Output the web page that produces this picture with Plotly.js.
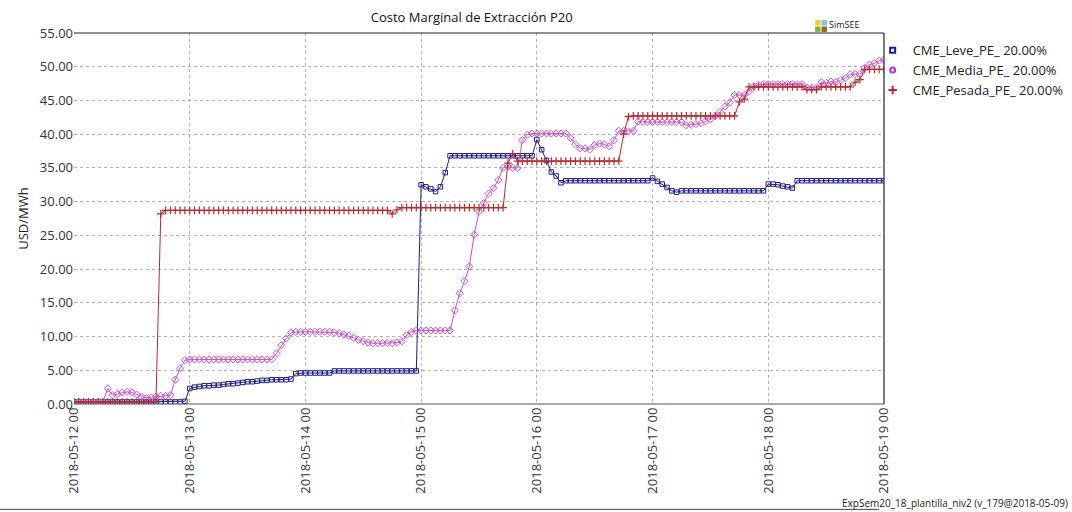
<!DOCTYPE html>
<html>
<head>
<meta charset="utf-8">
<script src="https://cdn.plot.ly/plotly-3.0.1.min.js"></script>
<style>html,body{margin:0;padding:0;background:#fff;}#chart{width:1072px;height:512px;}</style>
</head>
<body>
<div id="chart"></div>
<script>
// Hourly series, 2018-05-12 00 .. 2018-05-19 00 (169 points)
const seriesNames = ["CME_Leve_PE_ 20.00%", "CME_Media_PE_ 20.00%", "CME_Pesada_PE_ 20.00%"];
const dayTicks = ["2018-05-12 00","2018-05-13 00","2018-05-14 00","2018-05-15 00","2018-05-16 00","2018-05-17 00","2018-05-18 00","2018-05-19 00"];

const leve = [
 0.3,0.3,0.3,0.3,0.3,0.3,0.3,0.3,0.3,0.3,0.3,0.3,0.3,0.3,0.3,0.3,0.3,0.3,0.3,0.3,0.3,0.3,0.3,0.4,
 2.3,2.5,2.6,2.7,2.7,2.8,2.8,2.9,3.0,3.0,3.1,3.2,3.3,3.3,3.4,3.5,3.5,3.6,3.6,3.6,3.6,3.7,
 4.5,4.6,4.6,4.6,4.6,4.6,4.6,4.6,
 4.9,4.9,4.9,4.9,4.9,4.9,4.9,4.9,4.9,4.9,4.9,4.9,4.9,4.9,4.9,4.9,4.9,4.9,
 32.5,32.2,31.9,31.5,32.2,34.3,
 36.8,36.8,36.8,36.8,36.8,36.8,36.8,36.8,36.8,36.8,36.8,36.8,36.8,36.8,36.8,36.8,36.8,36.8,
 39.2,37.7,36.1,34.4,33.8,32.8,
 33.1,33.1,33.1,33.1,33.1,33.1,33.1,33.1,33.1,33.1,33.1,33.1,33.1,33.1,33.1,33.1,33.1,33.1,
 33.5,33.0,32.6,32.1,31.6,31.4,
 31.6,31.6,31.6,31.6,31.6,31.6,31.6,31.6,31.6,31.6,31.6,31.6,31.6,31.6,31.6,31.6,31.6,31.6,
 32.6,32.6,32.5,32.3,32.2,32.0,
 33.1,33.1,33.1,33.1,33.1,33.1,33.1,33.1,33.1,33.1,33.1,33.1,33.1,33.1,33.1,33.1,33.1,33.1,33.1
];

const media = [
 0.3,0.3,0.3,0.3,0.3,0.3,0.3,
 2.3,1.3,1.5,1.7,1.8,1.7,1.4,1.1,0.9,1.0,1.1,1.2,1.2,1.3,3.6,5.3,6.5,
 6.6,6.6,6.6,6.6,6.6,6.6,6.6,6.6,6.6,6.6,6.6,6.6,6.6,6.6,6.6,6.6,6.6,6.6,
 7.5,8.7,9.7,10.6,
 10.7,10.7,10.7,10.7,10.7,10.7,10.7,10.7,
 10.6,10.5,10.3,10.1,9.8,9.5,9.3,9.1,9.0,9.0,9.0,9.0,9.0,9.1,9.3,10.2,10.7,10.9,
 10.9,10.9,10.9,10.9,10.9,10.9,10.9,
 13.9,16.4,18.2,20.4,25.1,28.5,29.8,31.2,32.0,33.2,35.0,35.2,35.0,35.0,39.1,39.9,
 40.1,40.1,40.1,40.1,40.1,40.1,40.1,40.1,
 39.4,38.5,37.9,37.9,37.7,38.4,38.6,38.5,38.2,39.1,40.5,40.5,40.4,40.5,41.9,
 41.8,41.8,41.8,41.8,41.8,41.8,41.8,41.8,41.8,
 41.3,41.4,41.5,41.6,41.9,42.2,42.7,43.3,44.1,44.7,45.8,45.8,45.8,46.3,47.1,47.3,
 47.4,47.4,47.4,47.4,47.4,47.4,47.4,47.4,47.4,
 46.9,46.9,46.9,47.7,47.6,47.8,47.7,48.0,48.3,48.9,48.9,48.9,49.8,50.3,50.5,50.9,51.0
];

const pesada = [
 0.3,0.3,0.3,0.3,0.3,0.3,0.3,0.3,0.3,0.3,0.3,0.3,0.3,0.3,0.3,0.3,0.3,0.3,
 28.2,
 28.7,28.7,28.7,28.7,28.7,28.7,28.7,28.7,28.7,28.7,28.7,28.7,28.7,28.7,28.7,28.7,
 28.7,28.7,28.7,28.7,28.7,28.7,28.7,28.7,28.7,28.7,28.7,28.7,28.7,28.7,28.7,28.7,
 28.7,28.7,28.7,28.7,28.7,28.7,28.7,28.7,28.7,28.7,28.7,28.7,28.7,28.7,28.7,
 28.2,28.8,
 29.1,29.1,29.1,29.1,29.1,29.1,29.1,29.1,29.1,29.1,29.1,29.1,29.1,29.1,29.1,29.1,29.1,29.1,29.1,29.1,29.1,29.1,
 35.7,37.1,36.0,
 36.0,36.0,36.0,36.0,36.0,36.0,36.0,36.0,36.0,36.0,36.0,36.0,36.0,36.0,36.0,36.0,36.0,36.0,36.0,36.0,36.0,
 40.0,42.6,
 42.7,42.7,42.7,42.7,42.7,42.7,42.7,42.7,42.7,42.7,42.7,42.7,42.7,42.7,42.7,42.7,42.7,42.7,42.7,42.7,42.7,42.7,
 44.8,45.2,
 47.0,47.0,47.0,47.0,47.0,47.0,47.0,47.0,47.0,47.0,47.0,47.0,
 46.6,46.6,46.6,
 47.0,47.0,47.0,47.0,47.0,47.0,47.0,
 47.7,48.1,
 49.6,49.6,49.6,49.6,49.6
];

const yTicks = [0,5,10,15,20,25,30,35,40,45,50,55];

// hourly timestamps for the x axis
function hourStamp(i){
  const d = new Date(Date.UTC(2018,4,12,0,0,0) + i*3600000);
  const p = n => String(n).padStart(2,'0');
  return d.getUTCFullYear()+'-'+p(d.getUTCMonth()+1)+'-'+p(d.getUTCDate())+' '+p(d.getUTCHours())+':00';
}
const xs = leve.map((_,i)=>hourStamp(i));
const tickVals = dayTicks.map(t => t + ':00');

const colLeve = '#1c1c8a', colMedia = '#cc4fcc', colPesada = '#b82a2e';

const traces = [
  {x: xs, y: leve, mode:'lines+markers', name: seriesNames[0], showlegend:false,
   line:{color:colLeve,width:1}, marker:{symbol:'square-open',size:4.5,color:colLeve,line:{width:1,color:colLeve}}},
  {x: xs, y: media, mode:'lines+markers', name: seriesNames[1], showlegend:false,
   line:{color:colMedia,width:1}, marker:{symbol:'diamond-open',size:5.5,color:colMedia,line:{width:1,color:colMedia}}},
  {x: xs, y: pesada, mode:'lines+markers', name: seriesNames[2], showlegend:false,
   line:{color:colPesada,width:1}, marker:{symbol:'cross-thin-open',size:5.5,color:colPesada,line:{width:1.2,color:colPesada}}},
  {x:[null], y:[null], mode:'markers', name: seriesNames[0], showlegend:true,
   marker:{symbol:'square-open',size:5,color:'#1a1aa0',line:{width:2,color:'#1a1aa0'}}},
  {x:[null], y:[null], mode:'markers', name: seriesNames[1], showlegend:true,
   marker:{symbol:'circle-open',size:5,color:'#c030d0',line:{width:2,color:'#c030d0'}}},
  {x:[null], y:[null], mode:'markers', name: seriesNames[2], showlegend:true,
   marker:{symbol:'cross-thin-open',size:6,color:'#d02020',line:{width:2,color:'#d02020'}}}
];

const fontFam = 'Open Sans, Noto Sans, sans-serif';
const layout = {
  width:1072, height:512,
  margin:{l:74, r:188, t:33, b:108, autoexpand:false},
  paper_bgcolor:'#fff', plot_bgcolor:'#fff',
  font:{family:fontFam, size:13, color:'#222'},
  title:{text:'Costo Marginal de Extracción P20', x:0.44, xanchor:'center', y:0.965, yanchor:'middle',
         font:{family:fontFam, size:13, color:'#111'}},
  xaxis:{type:'date', range:[tickVals[0], tickVals[tickVals.length-1]],
         tickmode:'array', tickvals:tickVals, ticktext:dayTicks, tickangle:-90,
         showgrid:true, gridcolor:'#b0b0b0', griddash:'3px,3px', gridwidth:1,
         zeroline:false, showline:false, ticks:'', tickfont:{size:13,color:'#333'}},
  yaxis:{range:[0,55], tickmode:'array', tickvals:yTicks, ticktext:yTicks.map(v=>v.toFixed(2)),
         showgrid:true, gridcolor:'#b0b0b0', griddash:'3px,3px', gridwidth:1,
         zeroline:false, showline:false, ticks:'', tickfont:{size:13,color:'#333'},
         title:{text:'USD/MWh', font:{size:13,color:'#222'}, standoff:8}},
  legend:{x:0.986, xanchor:'left', y:0.994, yanchor:'top', font:{size:13,color:'#222'},
          bgcolor:'rgba(0,0,0,0)', itemwidth:30, tracegroupgap:2},
  shapes:[
    {type:'line', xref:'paper', yref:'paper', x0:0, x1:1, y0:1, y1:1, line:{color:'#222',width:1.2}},
    {type:'line', xref:'paper', yref:'paper', x0:0, x1:1, y0:0, y1:0, line:{color:'#555',width:1.2}},
    {type:'line', xref:'paper', yref:'paper', x0:1, x1:1, y0:0, y1:1, line:{color:'#222',width:1.2}},
    {type:'line', xref:'paper', yref:'paper', x0:-0.0914, x1:0.994, y0:-0.284, y1:-0.284, line:{color:'#444',width:1}},
    // SimSEE logo squares
    {type:'rect', xref:'paper', yref:'paper', x0:0.915, x1:0.9216, y0:1.020, y1:1.035, fillcolor:'#f5d020', line:{width:0}},
    {type:'rect', xref:'paper', yref:'paper', x0:0.9228, x1:0.9296, y0:1.020, y1:1.035, fillcolor:'#7cc4ee', line:{width:0}},
    {type:'rect', xref:'paper', yref:'paper', x0:0.915, x1:0.9216, y0:1.003, y1:1.0175, fillcolor:'#7ab830', line:{width:0}},
    {type:'rect', xref:'paper', yref:'paper', x0:0.9228, x1:0.9296, y0:1.003, y1:1.0175, fillcolor:'#9a6a10', line:{width:0}}
  ],
  annotations:[
    {text:'SimSEE', xref:'paper', yref:'paper', x:0.930, y:1.0, xanchor:'left', yanchor:'bottom',
     showarrow:false, font:{size:9,color:'#222'}},
    {text:'ExpSem20_18_plantilla_niv2 (v_179@2018-05-09)', xref:'paper', yref:'paper', x:1.2296, y:-0.292,
     xanchor:'right', yanchor:'bottom', showarrow:false, font:{size:10,color:'#222'}}
  ]
};

Plotly.newPlot('chart', traces, layout, {displayModeBar:false, responsive:false});
</script>
</body>
</html>
